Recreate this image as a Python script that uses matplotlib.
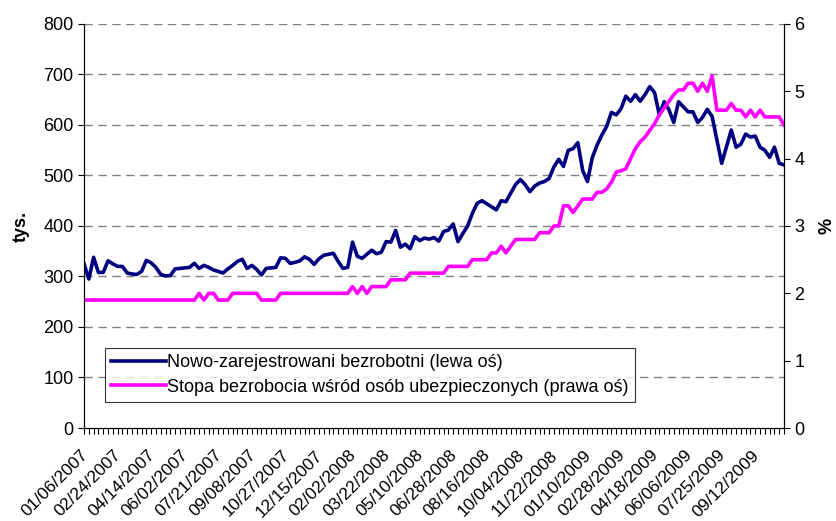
import matplotlib
matplotlib.use("Agg")
import matplotlib.pyplot as plt
import matplotlib.transforms as mtransforms
import numpy as np

plt.rcParams['font.family'] = ['Liberation Sans', 'DejaVu Sans']

# weekly data, first week 01/06/2007
date_labels = ["01/06/2007", "02/24/2007", "04/14/2007", "06/02/2007", "07/21/2007",
               "09/08/2007", "10/27/2007", "12/15/2007", "02/02/2008", "03/22/2008",
               "05/10/2008", "06/28/2008", "08/16/2008", "10/04/2008", "11/22/2008",
               "01/10/2009", "02/28/2009", "04/18/2009", "06/06/2009", "07/25/2009",
               "09/12/2009"]

registered = [325, 295, 338, 308, 308, 331, 325, 320, 320, 307,
              305, 304, 310, 332, 327, 318, 304, 301, 302, 315,
              316, 317, 318, 326, 316, 322, 318, 313, 310, 307,
              315, 322, 330, 334, 316, 322, 314, 303, 316, 317,
              318, 337, 336, 326, 328, 331, 339, 334, 324, 335,
              342, 344, 346, 330, 316, 318, 368, 340, 336, 344,
              352, 345, 348, 369, 368, 391, 358, 364, 355, 379,
              371, 376, 374, 377, 370, 389, 392, 404, 369, 385,
              400, 425, 445, 450, 444, 438, 432, 450, 448, 465,
              482, 492, 482, 468, 479, 485, 488, 494, 517, 532,
              518, 550, 553, 565, 510, 488, 535, 560, 580, 597,
              625, 620, 632, 657, 647, 660, 647, 660, 676, 664,
              620, 646, 630, 605, 646, 636, 626, 626, 605, 615,
              631, 617, 570, 524, 557, 590, 556, 562, 582, 576,
              578, 556, 550, 536, 556, 524, 521]

rate = [1.9, 1.9, 1.9, 1.9, 1.9, 1.9, 1.9, 1.9, 1.9, 1.9,
        1.9, 1.9, 1.9, 1.9, 1.9, 1.9, 1.9, 1.9, 1.9, 1.9,
        1.9, 1.9, 1.9, 1.9, 2.0, 1.9, 2.0, 2.0, 1.9, 1.9,
        1.9, 2.0, 2.0, 2.0, 2.0, 2.0, 2.0, 1.9, 1.9, 1.9,
        1.9, 2.0, 2.0, 2.0, 2.0, 2.0, 2.0, 2.0, 2.0, 2.0,
        2.0, 2.0, 2.0, 2.0, 2.0, 2.0, 2.1, 2.0, 2.1, 2.0,
        2.1, 2.1, 2.1, 2.1, 2.2, 2.2, 2.2, 2.2, 2.3, 2.3,
        2.3, 2.3, 2.3, 2.3, 2.3, 2.3, 2.4, 2.4, 2.4, 2.4,
        2.4, 2.5, 2.5, 2.5, 2.5, 2.6, 2.6, 2.7, 2.6, 2.7,
        2.8, 2.8, 2.8, 2.8, 2.8, 2.9, 2.9, 2.9, 3.0, 3.0,
        3.3, 3.3, 3.2, 3.3, 3.4, 3.4, 3.4, 3.5, 3.5, 3.55,
        3.65, 3.8, 3.82, 3.85, 4.0, 4.15, 4.25, 4.32, 4.42, 4.52,
        4.65, 4.75, 4.85, 4.95, 5.02, 5.02, 5.12, 5.12, 5.0, 5.12,
        5.0, 5.23, 4.72, 4.72, 4.72, 4.82, 4.72, 4.72, 4.62, 4.72,
        4.62, 4.72, 4.62, 4.62, 4.62, 4.62, 4.5]

x = np.arange(len(registered))

fig = plt.figure(figsize=(8.37, 5.21), dpi=100)
ax = fig.add_axes([0.1004, 0.1785, 0.8363, 0.7755])
ax2 = ax.twinx()

for y in range(100, 900, 100):
    ax.axhline(y, color="#808080", lw=1, ls=(0, (6, 4)), zorder=0)

l1, = ax.plot(x, registered, color="#000080", lw=2.6, label="Nowo-zarejestrowani bezrobotni (lewa oś)")
l2, = ax2.plot(x, rate, color="#FF00FF", lw=2.6, label="Stopa bezrobocia wśród osób ubezpieczonych (prawa oś)")

ax.set_xlim(0, len(registered) - 1)
ax.set_ylim(0, 800)
ax2.set_ylim(0, 6)
ax.set_yticks(range(0, 900, 100))
ax2.set_yticks(range(0, 7))

ax.set_xticks(np.arange(0, 7 * len(date_labels), 7))
ax.set_xticklabels(date_labels, rotation=45, ha="right", rotation_mode="anchor", fontsize=12.5)
ax.set_xticks(x, minor=True)
ax.tick_params(axis="x", which="both", length=4, width=0.8, direction="out", pad=10)
shift = mtransforms.ScaledTranslation(-4 / 100, 0, fig.dpi_scale_trans)
for lab in ax.get_xticklabels():
    lab.set_transform(lab.get_transform() + shift)
ax.tick_params(axis="y", labelsize=13, length=4)
ax2.tick_params(axis="y", labelsize=13, length=4)

for a in (ax, ax2):
    a.spines["top"].set_visible(False)
ax.set_ylabel("tys.", fontsize=13, fontweight="bold", labelpad=10)
ax2.set_ylabel("%", fontsize=13, fontweight="bold", labelpad=10)

leg = ax.legend(handles=[l1, l2], loc="upper left", bbox_to_anchor=(0.03, 0.198),
                borderaxespad=0, fontsize=13, frameon=True, fancybox=False,
                handlelength=3.0, handletextpad=0.1, borderpad=0.35, labelspacing=0.4)
leg.get_frame().set_edgecolor("black")
leg.get_frame().set_linewidth(0.8)

fig.savefig("out.png", dpi=100)
